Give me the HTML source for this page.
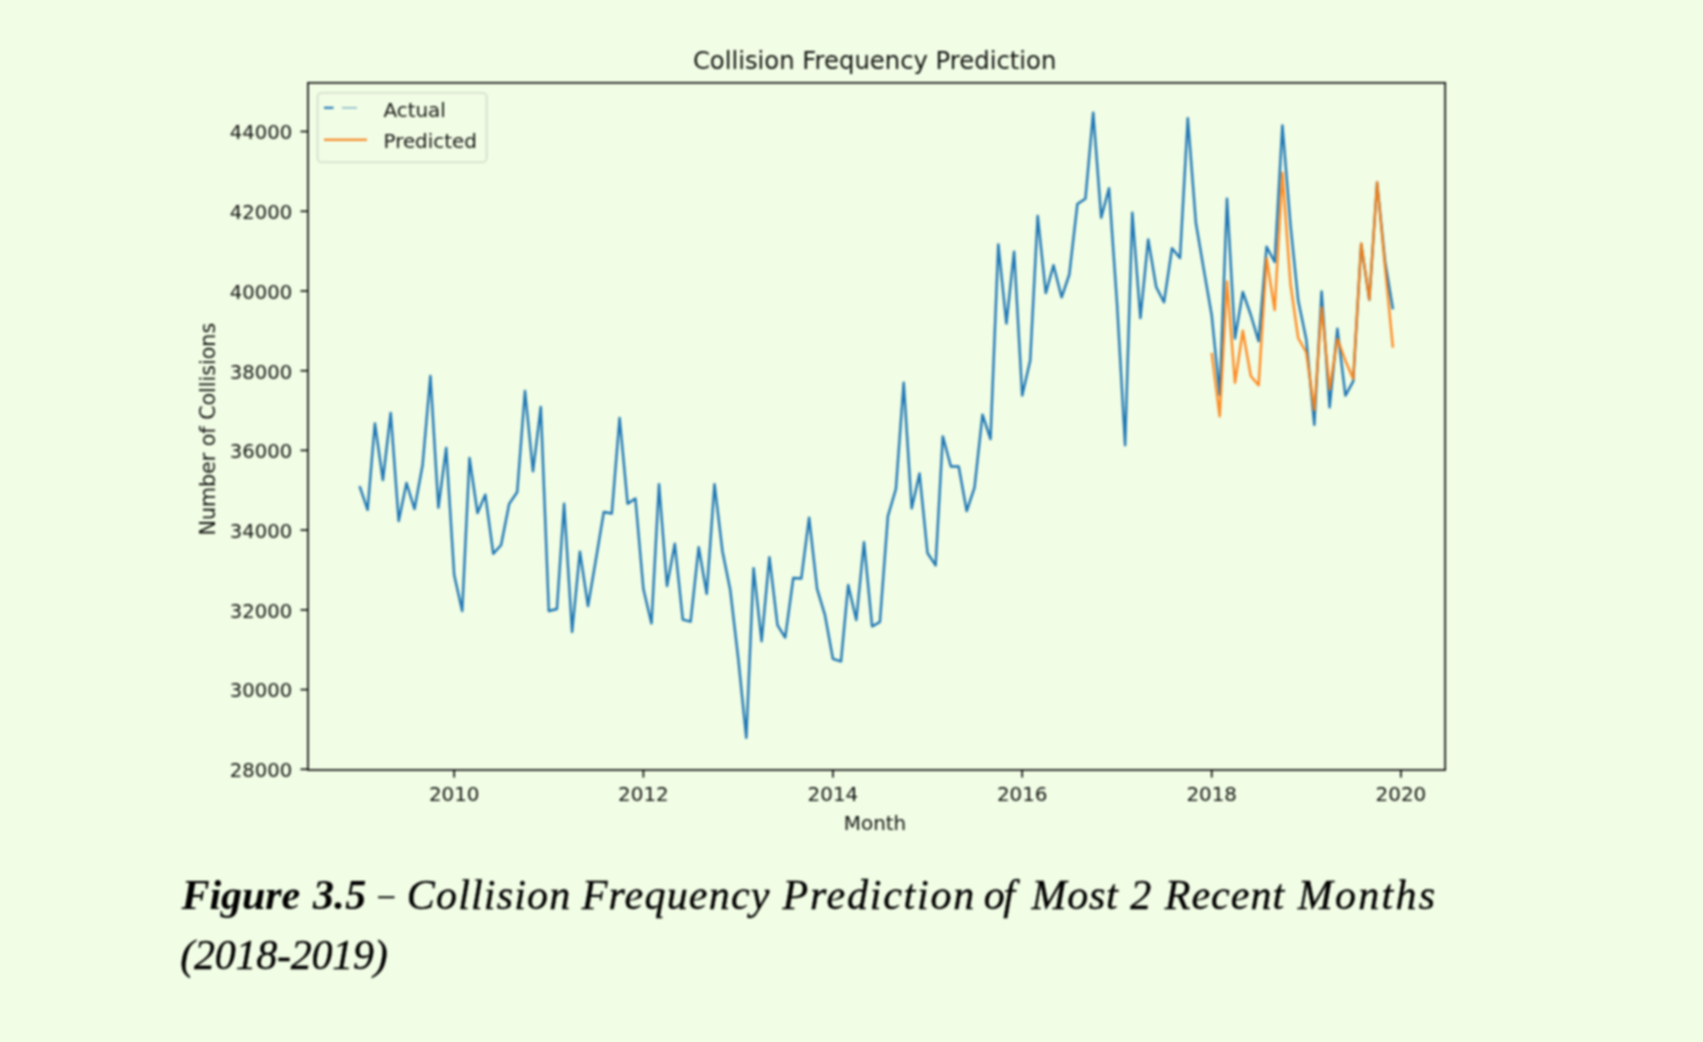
<!DOCTYPE html>
<html lang="en">
<head>
<meta charset="utf-8">
<title>Figure 3.5 - Collision Frequency Prediction</title>
<style>
html, body { margin:0; padding:0; }
body { width:1703px; height:1042px; background:#f1fde5; overflow:hidden; position:relative; }
figure { margin:0; position:absolute; left:0; top:0; width:1703px; height:1042px; }
#chart { position:absolute; left:0; top:0; display:block; filter:blur(1px); }
figcaption { position:absolute; left:0; top:0; width:1703px; height:1042px;
  font-family:"Liberation Serif", "DejaVu Serif", serif; font-style:italic; font-size:42px; color:#000; filter:blur(1px); }
figcaption span { position:absolute; white-space:nowrap; line-height:1; -webkit-text-stroke:0.35px #000; }
figcaption b { font-weight:bold; -webkit-text-stroke:0; }
</style>
</head>
<body>
<figure>
<svg id="chart" width="1703" height="850" viewBox="0 0 1703 850">
<g font-family="DejaVu Sans, Liberation Sans, sans-serif" fill="#000" fill-opacity="0.93">
<text x="874.6" y="69.1" font-size="24.3" text-anchor="middle">Collision Frequency Prediction</text>
<polyline fill="none" stroke="#1f77b4" stroke-width="2.4" stroke-linejoin="round" stroke-linecap="butt" points="359.6,486.2 367.6,509.8 374.9,423.5 382.9,480.0 390.7,413.0 398.7,521.0 406.5,483.0 414.5,509.0 422.6,465.0 430.4,376.0 438.4,507.7 446.2,448.0 454.2,575.0 462.2,611.0 469.5,458.0 477.5,513.0 485.3,494.7 493.3,553.8 501.1,545.0 509.2,503.8 517.2,492.0 525.0,391.0 533.0,471.4 540.8,407.0 548.8,611.0 556.9,609.0 564.1,503.7 572.1,632.0 579.9,551.6 588.0,606.0 595.7,560.7 603.8,512.0 611.8,513.5 619.6,418.0 627.6,503.7 635.4,498.5 643.4,589.0 651.5,623.4 659.0,484.2 667.0,586.0 674.8,543.8 682.8,619.7 690.6,621.6 698.7,547.2 706.7,593.8 714.5,484.2 722.5,551.5 730.3,590.3 738.3,659.0 746.3,737.8 753.6,568.1 761.6,641.2 769.4,557.2 777.5,625.1 785.2,637.6 793.3,578.0 801.3,578.5 809.1,517.6 817.1,588.8 824.9,614.8 832.9,658.8 841.0,661.4 848.2,585.0 856.3,620.0 864.0,542.2 872.1,626.4 879.9,622.0 887.9,516.2 895.9,489.0 903.7,382.8 911.7,508.4 919.5,473.5 927.5,553.0 935.6,565.4 942.8,436.4 950.9,466.5 958.7,466.5 966.7,511.0 974.5,487.7 982.5,414.7 990.5,439.0 998.3,244.4 1006.4,323.5 1014.1,251.7 1022.2,395.5 1030.2,360.5 1037.7,215.9 1045.8,293.1 1053.5,265.2 1061.6,297.3 1069.3,274.5 1077.4,204.0 1085.4,198.8 1093.2,112.6 1101.2,217.7 1109.0,188.2 1117.0,303.0 1125.1,445.2 1132.3,212.8 1140.4,318.1 1148.2,239.4 1156.2,287.0 1164.0,302.2 1172.0,248.3 1180.0,258.1 1187.8,118.3 1195.9,223.0 1203.6,268.4 1211.7,315.2 1219.7,395.0 1227.0,198.6 1235.0,338.5 1242.8,292.0 1250.8,315.0 1258.6,341.1 1266.6,246.8 1274.7,262.0 1282.4,125.4 1290.5,225.0 1298.2,300.5 1306.3,339.5 1314.3,424.9 1321.6,291.5 1329.6,407.3 1337.4,328.8 1345.4,395.6 1353.2,381.4 1361.2,244.0 1369.3,299.8 1377.1,182.5 1385.1,262.0 1392.9,309.3"/>
<polyline fill="none" stroke="#ff7f0e" stroke-width="2.4" stroke-linejoin="round" stroke-opacity="0.9" points="1211.7,352.8 1219.7,416.4 1227.0,281.5 1235.0,382.7 1242.8,330.8 1250.8,376.0 1258.6,385.3 1266.6,258.2 1274.7,310.0 1282.4,172.6 1290.5,284.0 1298.2,338.0 1306.3,352.5 1314.3,410.0 1321.6,307.4 1329.6,389.2 1337.4,339.0 1345.4,360.7 1353.2,378.8 1361.2,243.5 1369.3,299.7 1377.1,182.3 1385.1,267.5 1392.9,347.6"/>
<rect x="308.0" y="82.8" width="1137.2" height="687.2" fill="none" stroke="#000" stroke-width="1.6"/>
<line x1="300.5" y1="769.3" x2="308.0" y2="769.3" stroke="#000" stroke-width="1.6"/>
<text x="292.2" y="777.1" font-size="19.6" text-anchor="end">28000</text>
<line x1="300.5" y1="689.6" x2="308.0" y2="689.6" stroke="#000" stroke-width="1.6"/>
<text x="292.2" y="697.4" font-size="19.6" text-anchor="end">30000</text>
<line x1="300.5" y1="609.9" x2="308.0" y2="609.9" stroke="#000" stroke-width="1.6"/>
<text x="292.2" y="617.7" font-size="19.6" text-anchor="end">32000</text>
<line x1="300.5" y1="530.1" x2="308.0" y2="530.1" stroke="#000" stroke-width="1.6"/>
<text x="292.2" y="537.9" font-size="19.6" text-anchor="end">34000</text>
<line x1="300.5" y1="450.4" x2="308.0" y2="450.4" stroke="#000" stroke-width="1.6"/>
<text x="292.2" y="458.2" font-size="19.6" text-anchor="end">36000</text>
<line x1="300.5" y1="370.7" x2="308.0" y2="370.7" stroke="#000" stroke-width="1.6"/>
<text x="292.2" y="378.5" font-size="19.6" text-anchor="end">38000</text>
<line x1="300.5" y1="291.0" x2="308.0" y2="291.0" stroke="#000" stroke-width="1.6"/>
<text x="292.2" y="298.8" font-size="19.6" text-anchor="end">40000</text>
<line x1="300.5" y1="211.3" x2="308.0" y2="211.3" stroke="#000" stroke-width="1.6"/>
<text x="292.2" y="219.1" font-size="19.6" text-anchor="end">42000</text>
<line x1="300.5" y1="131.5" x2="308.0" y2="131.5" stroke="#000" stroke-width="1.6"/>
<text x="292.2" y="139.3" font-size="19.6" text-anchor="end">44000</text>
<line x1="454.2" y1="770.0" x2="454.2" y2="777.5" stroke="#000" stroke-width="1.6"/>
<text x="454.2" y="801.2" font-size="19.9" text-anchor="middle">2010</text>
<line x1="643.4" y1="770.0" x2="643.4" y2="777.5" stroke="#000" stroke-width="1.6"/>
<text x="643.4" y="801.2" font-size="19.9" text-anchor="middle">2012</text>
<line x1="832.9" y1="770.0" x2="832.9" y2="777.5" stroke="#000" stroke-width="1.6"/>
<text x="832.9" y="801.2" font-size="19.9" text-anchor="middle">2014</text>
<line x1="1022.2" y1="770.0" x2="1022.2" y2="777.5" stroke="#000" stroke-width="1.6"/>
<text x="1022.2" y="801.2" font-size="19.9" text-anchor="middle">2016</text>
<line x1="1211.7" y1="770.0" x2="1211.7" y2="777.5" stroke="#000" stroke-width="1.6"/>
<text x="1211.7" y="801.2" font-size="19.9" text-anchor="middle">2018</text>
<line x1="1400.9" y1="770.0" x2="1400.9" y2="777.5" stroke="#000" stroke-width="1.6"/>
<text x="1400.9" y="801.2" font-size="19.9" text-anchor="middle">2020</text>
<text x="875" y="830" font-size="19.9" text-anchor="middle">Month</text>
<text transform="translate(215.4 429.2) rotate(-90)" font-size="20.6" text-anchor="middle">Number of Collisions</text>
<rect x="317.6" y="93" width="169" height="69.2" rx="4" ry="4" fill="#f1fde5" fill-opacity="0.8" stroke="#d3dccb" stroke-width="1.6"/>
<line x1="324" y1="107.8" x2="333.5" y2="107.8" stroke="#1f77b4" stroke-width="2.1" stroke-opacity="1"/>
<line x1="342" y1="107.8" x2="357" y2="107.8" stroke="#1f77b4" stroke-width="1.6" stroke-opacity="0.5"/>
<line x1="324" y1="139.8" x2="367" y2="139.8" stroke="#f57c10" stroke-width="2.1" stroke-opacity="1"/>
<text x="383.5" y="116.6" font-size="19.9">Actual</text>
<text x="383.5" y="148.2" font-size="19.9">Predicted</text>
</g></svg>
<figcaption>
<span style="left:181.6px;top:873.9px;letter-spacing:-0.08px"><b>Figure</b></span>
<span style="left:312.9px;top:873.9px;letter-spacing:0.40px"><b>3.5</b></span>
<span style="left:378.4px;top:878.5px;font-size:31px">–</span>
<span style="left:406.8px;top:873.9px;letter-spacing:1.17px">Collision</span>
<span style="left:581.7px;top:873.9px;letter-spacing:1.22px">Frequency</span>
<span style="left:782.6px;top:873.9px;letter-spacing:1.76px">Prediction</span>
<span style="left:983.7px;top:873.9px;letter-spacing:-1.40px">of</span>
<span style="left:1031.5px;top:873.9px;letter-spacing:0.73px">Most</span>
<span style="left:1130.3px;top:873.9px;letter-spacing:0.00px">2</span>
<span style="left:1164.7px;top:873.9px;letter-spacing:1.04px">Recent</span>
<span style="left:1297.8px;top:873.9px;letter-spacing:2.28px">Months</span>
<span style="left:180.2px;top:934.0px;letter-spacing:-0.24px">(2018-2019)</span>
</figcaption>
</figure>
</body>
</html>
